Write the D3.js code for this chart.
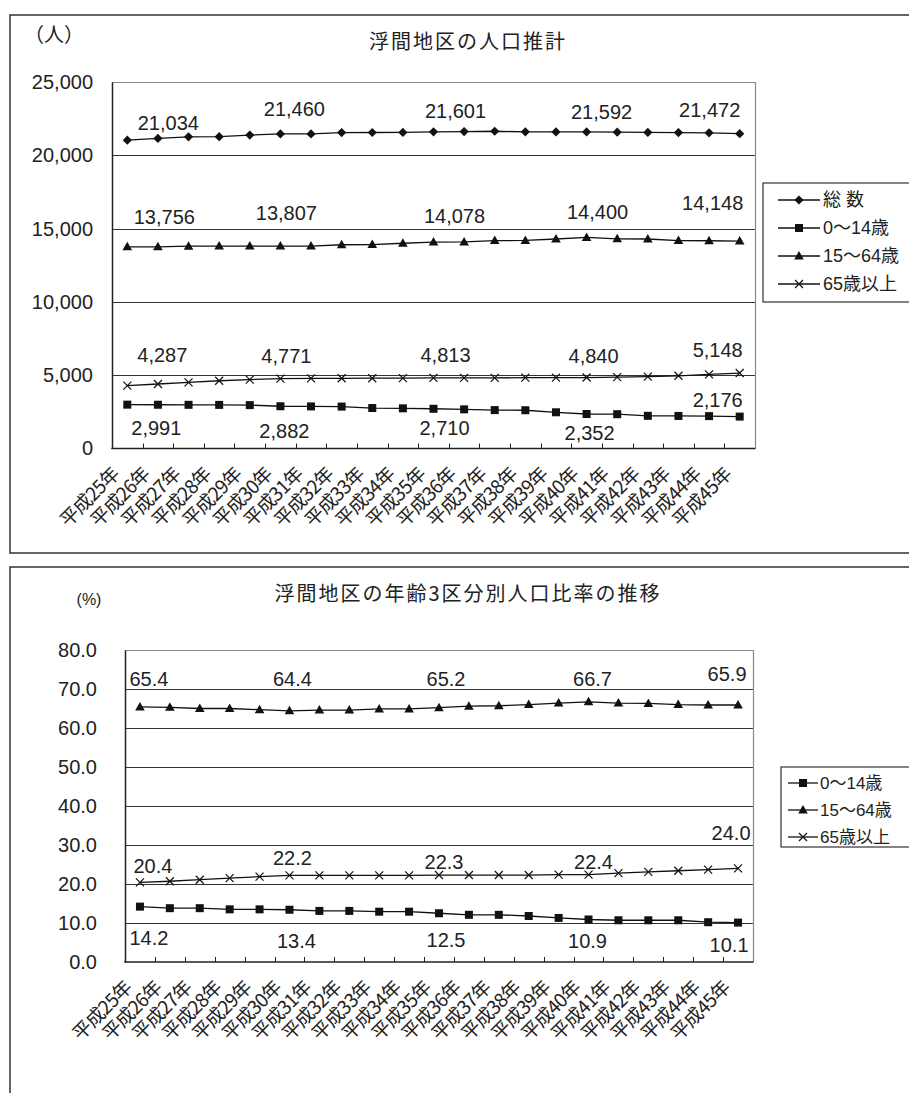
<!DOCTYPE html>
<html><head><meta charset="utf-8">
<script src="https://cdn.jsdelivr.net/npm/d3@7"></script>
<style>
body{margin:0;background:#fff;}
svg{display:block;}
text{font-family:"Liberation Sans","Noto Sans CJK JP",sans-serif;fill:#222;}
.jp{font-family:"Noto Sans CJK JP",sans-serif;}
</style></head><body>
<svg id="c" width="909" height="1093"></svg>
<script>
// ---------- data ----------
const years = ["平成25年","平成26年","平成27年","平成28年","平成29年","平成30年","平成31年",
  "平成32年","平成33年","平成34年","平成35年","平成36年","平成37年","平成38年","平成39年",
  "平成40年","平成41年","平成42年","平成43年","平成44年","平成45年"];

const popTotal  = [21034,21150,21260,21270,21380,21460,21460,21550,21555,21560,21601,21620,21640,21600,21595,21592,21580,21560,21550,21530,21472];
const pop0to14  = [2991,2985,2980,2975,2960,2882,2870,2860,2760,2740,2710,2670,2620,2610,2470,2352,2340,2230,2220,2210,2176];
const pop15to64 = [13756,13760,13800,13805,13805,13807,13810,13900,13910,14000,14078,14090,14180,14190,14290,14400,14300,14290,14180,14170,14148];
const pop65plus = [4287,4400,4510,4620,4700,4771,4780,4790,4795,4800,4813,4815,4820,4830,4835,4840,4870,4900,4960,5060,5148];
const popTicks  = [0,5000,10000,15000,20000,25000];

const pct0to14  = [14.2,13.8,13.8,13.5,13.5,13.4,13.1,13.1,12.9,12.9,12.5,12.1,12.1,11.8,11.3,10.9,10.7,10.7,10.7,10.2,10.1];
const pct15to64 = [65.4,65.3,65.0,65.0,64.7,64.4,64.6,64.6,64.9,64.9,65.2,65.6,65.7,66.0,66.4,66.7,66.4,66.3,66.0,65.9,65.9];
const pct65plus = [20.4,20.7,21.1,21.5,21.9,22.2,22.2,22.2,22.2,22.2,22.3,22.3,22.3,22.3,22.4,22.4,22.8,23.1,23.4,23.7,24.0];
const pctTicks  = [0,10,20,30,40,50,60,70,80];

const labeledYears = [0,5,10,15,20];

const seriesNamesTop = ["総 数","0～14歳","15～64歳","65歳以上"];
const seriesNamesBottom = ["0～14歳","15～64歳","65歳以上"];

// ---------- layout (label offsets [dx, dy] from each labelled point) ----------
const layoutTopLabels = {
  total: [[41,-10],[14,-18],[22,-14],[15,-13],[-30,-17]],
  a0:    [[29,30],[4,32],[11,26],[3,26],[-22,-10]],
  a15:   [[37,-23],[6,-26],[21,-19],[11,-18],[-27,-31]],
  a65:   [[35,-24],[6,-16],[12,-16],[7,-15],[-22,-16]]
};
const layoutBottomLabels = {
  a0:  [[9,38],[7,38],[7,34],[-1,29],[-9,29]],
  a15: [[9,-21],[3,-25],[7,-22],[4,-16],[-11,-24]],
  a65: [[13,-9],[3,-10],[5,-6],[5,-6],[-7,-28]]
};

const svg = d3.select("#c");

// marker shapes
function drawMarker(g, type, x, y){
  if(type==="diamond"){
    g.append("path").attr("d",`M${x},${y-4.6}L${x+4.6},${y}L${x},${y+4.6}L${x-4.6},${y}Z`).attr("fill","#111");
  } else if(type==="square"){
    g.append("rect").attr("x",x-4).attr("y",y-4).attr("width",8).attr("height",8).attr("fill","#111");
  } else if(type==="triangle"){
    g.append("path").attr("d",`M${x},${y-5}L${x+4.8},${y+3.5}L${x-4.8},${y+3.5}Z`).attr("fill","#111");
  } else if(type==="cross"){
    g.append("path").attr("d",`M${x-4},${y-4}L${x+4},${y+4}M${x-4},${y+4}L${x+4},${y-4}`)
      .attr("stroke","#111").attr("stroke-width",1.2).attr("fill","none");
  }
}

function drawChart(cfg){
  const g = svg.append("g");
  // panel border
  g.append("rect").attr("x",cfg.panel[0]).attr("y",cfg.panel[1]).attr("width",cfg.panel[2]).attr("height",cfg.panel[3])
    .attr("fill","none").attr("stroke","#333").attr("stroke-width",1.5);

  const x = d3.scaleBand().domain(years).range([cfg.plot.l, cfg.plot.r]).padding(0);
  const y = d3.scaleLinear().domain([cfg.ticks[0], cfg.ticks[cfg.ticks.length-1]]).range([cfg.plot.b, cfg.plot.t]);

  // gridlines
  g.append("g").selectAll("line").data(cfg.ticks.slice(1, -1)).join("line")
    .attr("x1",cfg.plot.l).attr("x2",cfg.plot.r)
    .attr("y1",d=>Math.round(y(d))+0.5).attr("y2",d=>Math.round(y(d))+0.5)
    .attr("stroke","#333").attr("stroke-width",1);
  // plot top/right border (gray)
  g.append("path")
    .attr("d",`M${cfg.plot.l},${Math.round(y(cfg.ticks[cfg.ticks.length-1]))+0.5}H${cfg.plot.r+0.5}V${cfg.plot.b}`)
    .attr("fill","none").attr("stroke","#888").attr("stroke-width",1.2);

  // y axis
  const ya = d3.axisLeft(y).tickValues(cfg.ticks).tickSize(0).tickPadding(cfg.tickPad).tickFormat(cfg.tickFmt);
  const yg = g.append("g").attr("transform",`translate(${cfg.plot.l},0)`).call(ya);
  yg.select(".domain").attr("stroke","#222").attr("stroke-width",1.5);
  yg.selectAll("text").attr("font-size",20).attr("fill","#222")
    .attr("font-family",'"Liberation Sans",sans-serif');

  // x axis line
  g.append("line").attr("x1",cfg.plot.l-0.75).attr("x2",cfg.plot.r+0.5)
    .attr("y1",cfg.plot.b).attr("y2",cfg.plot.b).attr("stroke","#222").attr("stroke-width",1.5);
  // inner tick marks at band boundaries
  g.append("g").selectAll("line").data(years.slice(1)).join("line")
    .attr("x1",d=>Math.round(x(d))+0.5).attr("x2",d=>Math.round(x(d))+0.5)
    .attr("y1",cfg.plot.b).attr("y2",cfg.plot.b-5).attr("stroke","#222").attr("stroke-width",1);
  // x labels
  g.append("g").selectAll("text").data(years).join("text")
    .attr("class","jp")
    .attr("transform",d=>`translate(${x(d)+x.bandwidth()/2+cfg.xlab[0]},${cfg.plot.b+cfg.xlab[1]}) rotate(-45)`)
    .attr("text-anchor","end").attr("font-size",cfg.xlabSize).attr("letter-spacing",-0.8)
    .text(d=>d);

  // series
  const cx = (i)=>x(years[i])+x.bandwidth()/2;
  cfg.series.forEach(s=>{
    const line = d3.line().x((d,i)=>cx(i)).y(d=>y(d));
    g.append("path").attr("d",line(s.values)).attr("fill","none").attr("stroke","#111").attr("stroke-width",1.3);
    const mg = g.append("g");
    s.values.forEach((v,i)=>drawMarker(mg,s.marker,cx(i),y(v)));
    labeledYears.forEach((idx,k)=>{
      const off = s.labels[k];
      g.append("text").attr("x",cx(idx)+off[0]).attr("y",y(s.values[idx])+off[1])
        .attr("text-anchor","middle").attr("font-size",20)
        .attr("font-family",'"Liberation Sans",sans-serif')
        .text(cfg.valFmt(s.values[idx]));
    });
  });

  // title
  g.append("text").attr("class","jp").attr("x",cfg.title[1]).attr("y",cfg.title[2])
    .attr("text-anchor","middle").attr("font-size",20).attr("letter-spacing",2).text(cfg.title[0]);
  g.append("text").attr("x",cfg.unit[1]).attr("y",cfg.unit[2]).attr("text-anchor","middle")
    .attr("font-size",cfg.unit[3]).text(cfg.unit[0]);

  // legend
  const L = cfg.legend;
  g.append("rect").attr("x",L.x).attr("y",L.y).attr("width",L.w).attr("height",L.h)
    .attr("fill","#fff").attr("stroke","#333").attr("stroke-width",1.2);
  cfg.series.forEach((s,i)=>{
    const ly = L.row0 + i*L.step;
    g.append("line").attr("x1",L.l1).attr("x2",L.l2).attr("y1",ly).attr("y2",ly).attr("stroke","#111").attr("stroke-width",1.3);
    drawMarker(g,s.marker,(L.l1+L.l2)/2,ly);
    g.append("text").attr("x",L.tx).attr("y",ly).attr("dy","0.36em").attr("font-size",L.fs).text(s.name);
  });
}

drawChart({
  panel:[10,15,930,538],
  plot:{l:112,r:755,t:82,b:448.5},
  ticks:popTicks, tickPad:19, tickFmt:d3.format(","), valFmt:d3.format(","),
  xlab:[-7,27], xlabSize:19,
  title:["浮間地区の人口推計",468,49],
  unit:["（人）",54,42,20],
  legend:{x:763,y:183,w:200,h:119,row0:200,step:28,l1:778,l2:820,tx:823,fs:18},
  series:[
    {name:seriesNamesTop[0],values:popTotal,marker:"diamond",labels:layoutTopLabels.total},
    {name:seriesNamesTop[1],values:pop0to14,marker:"square",labels:layoutTopLabels.a0},
    {name:seriesNamesTop[2],values:pop15to64,marker:"triangle",labels:layoutTopLabels.a15},
    {name:seriesNamesTop[3],values:pop65plus,marker:"cross",labels:layoutTopLabels.a65}
  ]
});

drawChart({
  panel:[10,567,930,600],
  plot:{l:125,r:753,t:650,b:962},
  ticks:pctTicks, tickPad:28, tickFmt:d3.format(".1f"), valFmt:d3.format(".1f"),
  xlab:[-7,27], xlabSize:19,
  title:["浮間地区の年齢3区分別人口比率の推移",468,601],
  unit:["(%)",89,605,16],
  legend:{x:781,y:767,w:200,h:80,row0:783,step:27,l1:788,l2:818,tx:820,fs:17},
  series:[
    {name:seriesNamesBottom[0],values:pct0to14,marker:"square",labels:layoutBottomLabels.a0},
    {name:seriesNamesBottom[1],values:pct15to64,marker:"triangle",labels:layoutBottomLabels.a15},
    {name:seriesNamesBottom[2],values:pct65plus,marker:"cross",labels:layoutBottomLabels.a65}
  ]
});
</script>
</body></html>
